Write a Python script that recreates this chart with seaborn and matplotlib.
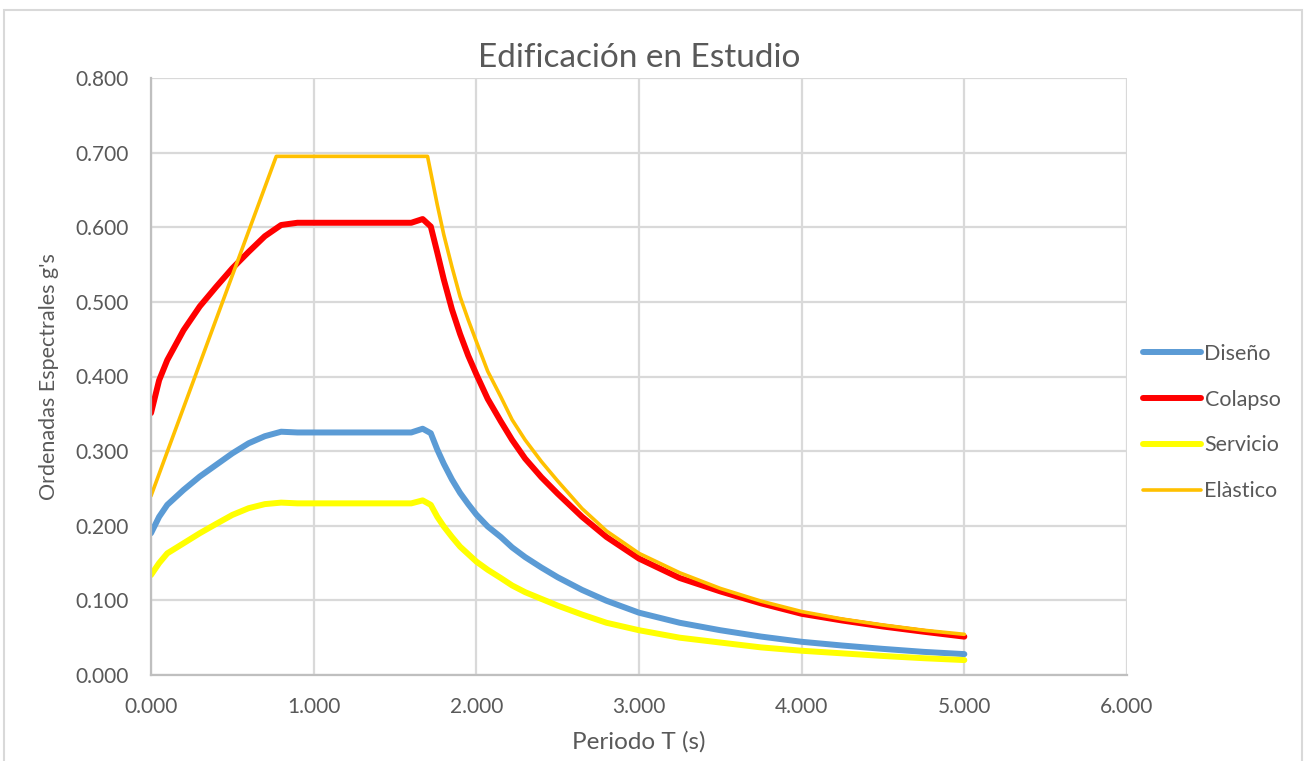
import numpy as np
import pandas as pd
import matplotlib
matplotlib.use("Agg")
import matplotlib.pyplot as plt
import seaborn as sns
from matplotlib.patches import Rectangle

# Periods (s) shared by the three reduced spectra
periodo = [0.0, 0.05, 0.1, 0.2, 0.3, 0.4, 0.5, 0.6, 0.7, 0.8, 0.9, 1.0, 1.2, 1.4, 1.6,
           1.67, 1.72, 1.76, 1.8, 1.85, 1.9, 1.95, 2.0, 2.07, 2.15, 2.22, 2.3, 2.4, 2.5,
           2.65, 2.8, 3.0, 3.25, 3.5, 3.75, 4.0, 4.25, 4.5, 4.75, 5.0]

diseno = [0.190, 0.212, 0.228, 0.248, 0.266, 0.2815, 0.297, 0.3105, 0.320, 0.326, 0.325,
          0.325, 0.325, 0.325, 0.325, 0.330, 0.324, 0.302, 0.283, 0.262, 0.244, 0.229,
          0.215, 0.199, 0.185, 0.171, 0.158, 0.144, 0.131, 0.114, 0.0995, 0.0835, 0.070,
          0.060, 0.0515, 0.0445, 0.0395, 0.035, 0.031, 0.028]

colapso = [0.351, 0.395, 0.422, 0.462, 0.494, 0.520, 0.545, 0.567, 0.588, 0.603, 0.606,
           0.606, 0.606, 0.606, 0.606, 0.611, 0.601, 0.566, 0.530, 0.490, 0.457, 0.428,
           0.403, 0.370, 0.340, 0.315, 0.290, 0.265, 0.243, 0.212, 0.185, 0.156, 0.130,
           0.112, 0.096, 0.082, 0.073, 0.065, 0.058, 0.0514]

servicio = [0.134, 0.150, 0.163, 0.1765, 0.190, 0.2024, 0.2145, 0.2235, 0.229, 0.231, 0.230,
            0.230, 0.230, 0.230, 0.230, 0.234, 0.228, 0.212, 0.199, 0.185, 0.172, 0.162,
            0.152, 0.141, 0.130, 0.120, 0.111, 0.102, 0.093, 0.081, 0.070, 0.060, 0.050,
            0.0435, 0.037, 0.0325, 0.029, 0.0255, 0.0225, 0.020]

# Elastic spectrum has its own break points
periodo_el = [0.0, 0.77, 1.70, 1.76, 1.8, 1.85, 1.9, 1.95, 2.0, 2.07, 2.15, 2.22, 2.3,
              2.4, 2.5, 2.65, 2.8, 3.0, 3.25, 3.5, 3.75, 4.0, 4.25, 4.5, 4.75, 5.0]
elastico = [0.240, 0.695, 0.695, 0.630, 0.590, 0.547, 0.507, 0.476, 0.447, 0.407, 0.373,
            0.342, 0.315, 0.286, 0.260, 0.223, 0.193, 0.163, 0.137, 0.116, 0.099, 0.085,
            0.075, 0.067, 0.060, 0.0545]

x_ticks = [0, 1, 2, 3, 4, 5, 6]
y_ticks = [0.0, 0.1, 0.2, 0.3, 0.4, 0.5, 0.6, 0.7, 0.8]

sns.set_style("white")
plt.rcParams["font.family"] = ["Lato", "DejaVu Sans"]
txt = "#595959"
grid = "#d9d9d9"

fig = plt.figure(figsize=(13.07, 7.61), dpi=100)
fig.patches.append(Rectangle((4 / 1307, -0.05), 1298 / 1307, 1.05 - 10 / 761,
                             transform=fig.transFigure, fill=False,
                             edgecolor="#d9d9d9", linewidth=1.5))
ax = fig.add_axes([151 / 1307, 1 - 675 / 761, 976 / 1307, 597 / 761])

series = [
    ("Diseño", periodo, diseno, "#5B9BD5", 4.3),
    ("Colapso", periodo, colapso, "#FF0000", 4.3),
    ("Servicio", periodo, servicio, "#FFFF00", 4.3),
    ("Elàstico", periodo_el, elastico, "#FFC000", 2.6),
]
for name, xs, ys, col, lw in series:
    df = pd.DataFrame({"T": xs, "Sa": ys})
    sns.lineplot(data=df, x="T", y="Sa", color=col, linewidth=lw, label=name,
                 sort=False, estimator=None, ax=ax, solid_capstyle="round",
                 solid_joinstyle="round")

ax.set_xlim(0, 6)
ax.set_ylim(0, 0.8)
ax.set_xticks(x_ticks)
ax.set_yticks(y_ticks)
ax.set_xticklabels([f"{v:.3f}" for v in x_ticks])
ax.set_yticklabels([f"{v:.3f}" for v in y_ticks])
ax.grid(True, color=grid, linewidth=1.6)
ax.set_axisbelow(True)
for s in ["top", "right"]:
    ax.spines[s].set_visible(False)
for s in ["left", "bottom"]:
    ax.spines[s].set_color("#bfbfbf")
    ax.spines[s].set_linewidth(1.6)
ax.tick_params(axis="y", length=0, labelsize=15, labelcolor=txt, pad=16)
ax.tick_params(axis="x", length=0, labelsize=15, labelcolor=txt, pad=16)

ax.set_title("Edificación en Estudio", fontsize=24, color=txt, pad=8)
ax.set_xlabel("Periodo T (s)", fontsize=17.5, color=txt, labelpad=10)
ax.set_ylabel("Ordenadas Espectrales g's", fontsize=15.5, color=txt, labelpad=12)

leg = ax.legend(loc="center left", bbox_to_anchor=(1.0, 0.423), frameon=False,
                fontsize=15.5, handlelength=2.7, handletextpad=0.15, labelspacing=1.2,
                borderaxespad=0.35)
for t in leg.get_texts():
    t.set_color(txt)

fig.savefig("out.png", dpi=100)
